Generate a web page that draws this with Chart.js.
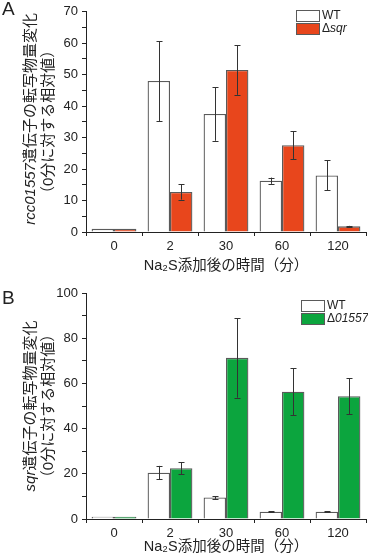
<!DOCTYPE html>
<html>
<head>
<meta charset="utf-8">
<script src="https://cdn.jsdelivr.net/npm/chart.js@4.4.0/dist/chart.umd.min.js"></script>
<style>
  html, body { margin: 0; padding: 0; background: #fff; }
  canvas { display: block; }
</style>
</head>
<body>
<canvas id="chartA" width="368" height="280"></canvas>
<canvas id="chartB" width="368" height="278"></canvas>
<script>
// time after Na2S addition (min)
const categories = ['0', '2', '30', '60', '120'];

// panel A: rcc01557 expression
const wtA = [1, 48, 37.5, 16.3, 18];
const wtAErr = [0, 12.7, 8.5, 1, 4.8];
const sqrA = [1, 12.7, 51.5, 27.6, 1.8];
const sqrAErr = [0, 2.4, 7.9, 4.4, 0.15];

// panel B: sqr expression
const wtB = [1, 20.5, 9.5, 3.2, 3.2];
const wtBErr = [0, 3, 0.6, 0.25, 0.25];
const d01557B = [1, 22.5, 71.3, 56.3, 54.3];
const d01557BErr = [0, 2.6, 17.6, 10.3, 7.9];

const FONT = '"Liberation Sans", "Noto Sans CJK JP", sans-serif';
const RED = '#E8461C';
const GREEN = '#0CA53E';
const EDGE = '#5a5a5a';
const INK = '#222';

// error bars + boundary ticks + titles + legend, all placed from the chart's scales
const extras = {
    id: 'extras',
    afterDatasetsDraw(chart) {
        const ctx = chart.ctx;
        const y = chart.scales.y;
        ctx.save();
        ctx.strokeStyle = '#333';
        ctx.lineWidth = 1;
        chart.data.datasets.forEach((ds, i) => {
            const meta = chart.getDatasetMeta(i);
            meta.data.forEach((bar, j) => {
                const e = ds.err[j];
                if (!e) return;
                const top = y.getPixelForValue(ds.data[j] + e);
                const bot = y.getPixelForValue(ds.data[j] - e);
                const x = Math.round(bar.x) + 0.5;
                ctx.beginPath();
                ctx.moveTo(x, top); ctx.lineTo(x, bot);
                ctx.moveTo(x - 3, Math.round(top) + 0.5); ctx.lineTo(x + 3, Math.round(top) + 0.5);
                ctx.moveTo(x - 3, Math.round(bot) + 0.5); ctx.lineTo(x + 3, Math.round(bot) + 0.5);
                ctx.stroke();
            });
        });
        ctx.restore();
    },
    afterDraw(chart) {
        const o = chart.options.plugins.extras;
        const ctx = chart.ctx;
        const area = chart.chartArea;
        const x = chart.scales.x;
        ctx.save();

        // minor ticks at category boundaries
        ctx.strokeStyle = INK;
        ctx.lineWidth = 1;
        ctx.beginPath();
        for (let i = 1; i < categories.length; i++) {
            const px = Math.round((x.getPixelForValue(i - 1) + x.getPixelForValue(i)) / 2) + 0.5;
            ctx.moveTo(px, area.bottom); ctx.lineTo(px, area.bottom + 4);
        }
        ctx.stroke();

        // panel letter
        ctx.fillStyle = INK;
        ctx.font = '19px ' + FONT;
        ctx.textBaseline = 'top';
        ctx.textAlign = 'left';
        ctx.fillText(o.letter, 2, o.letterY);

        // y axis title, two lines, rotated
        const cy = (area.top + area.bottom) / 2;
        ctx.save();
        ctx.translate(31, cy);
        ctx.rotate(-Math.PI / 2);
        ctx.textBaseline = 'middle';
        ctx.textAlign = 'left';
        const italic = 'italic 15px ' + FONT;
        const normal = '15px ' + FONT;
        ctx.font = italic;
        const w1 = ctx.measureText(o.gene).width;
        ctx.font = normal;
        const w2 = ctx.measureText(o.title1).width;
        let sx = -(w1 + w2) / 2 + o.shift;
        ctx.font = italic;
        ctx.fillText(o.gene, sx, 0);
        ctx.font = normal;
        ctx.fillText(o.title1, sx + w1, 0);
        ctx.textAlign = 'center';
        ctx.fillText('（0分に対する相対値）', 0, 18);
        ctx.restore();

        // legend
        const ds = chart.data.datasets;
        ctx.lineWidth = 1;
        ctx.strokeStyle = EDGE;
        ctx.textBaseline = 'middle';
        ctx.textAlign = 'left';
        ds.forEach((d, i) => {
            const by = o.legendY + i * 13;
            ctx.fillStyle = d.backgroundColor;
            ctx.fillRect(o.legendX, by, 24, 12);
            ctx.strokeRect(o.legendX + 0.5, by + 0.5, 23, 11);
            ctx.fillStyle = INK;
            const tx = o.legendX + 26;
            ctx.font = '12px ' + FONT;
            if (i === 0) {
                ctx.fillText(d.label, tx, by + 6);
            } else {
                ctx.fillText('Δ', tx, by + 6);
                const dw = ctx.measureText('Δ').width;
                ctx.font = 'italic 12px ' + FONT;
                ctx.fillText(d.label.slice(1), tx + dw, by + 6);
            }
        });
        ctx.restore();
    }
};

function makeChart(id, wt, wtErr, mut, mutErr, mutLabel, color, yMax, step, opts) {
    return new Chart(document.getElementById(id), {
        type: 'bar',
        data: {
            labels: categories,
            datasets: [
                { label: 'WT', data: wt, err: wtErr, backgroundColor: '#fff', borderColor: EDGE, borderWidth: 1.3 },
                { label: mutLabel, data: mut, err: mutErr, backgroundColor: color, borderColor: EDGE, borderWidth: 1.3 }
            ]
        },
        options: {
            responsive: false,
            animation: false,
            devicePixelRatio: 1,
            layout: { padding: { left: 0, right: 2, top: opts.top, bottom: 0 } },
            datasets: { bar: { categoryPercentage: 0.8, barPercentage: 1 } },
            plugins: {
                legend: { display: false },
                tooltip: { enabled: false },
                extras: opts
            },
            scales: {
                x: {
                    grid: { drawOnChartArea: false, tickLength: 4, color: INK },
                    border: { color: INK, width: 1 },
                    ticks: { color: INK, font: { family: FONT, size: 13 }, padding: 3 },
                    title: {
                        display: true,
                        text: 'Na₂S添加後の時間（分）',
                        color: INK,
                        font: { family: FONT, size: 14.5 },
                        padding: { top: 1, bottom: opts.titlePad }
                    },
                    afterFit: s => { s.height = opts.xHeight; }
                },
                y: {
                    min: 0,
                    max: yMax,
                    grid: { drawOnChartArea: false, tickLength: 4, color: INK },
                    border: { color: INK, width: 1 },
                    ticks: {
                        stepSize: step,
                        autoSkip: false,
                        color: INK,
                        font: { family: FONT, size: 13 },
                        padding: 4,
                        callback: v => (v % (step * 2) === 0 ? v : '')
                    },
                    afterFit: s => { s.width = 86; }
                }
            }
        },
        plugins: [extras]
    });
}

makeChart('chartA', wtA, wtAErr, sqrA, sqrAErr, 'Δsqr', RED, 70, 5,
    { top: 7, xHeight: 48, titlePad: 5, letter: 'A', letterY: 0, gene: 'rcc01557', title1: '遺伝子の転写物量変化',
      shift: 3, legendX: 296, legendY: 10 });
makeChart('chartB', wtB, wtBErr, d01557B, d01557BErr, 'Δ01557', GREEN, 100, 10,
    { top: 13, xHeight: 39, titlePad: 2, letter: 'B', letterY: 9, gene: 'sqr', title1: '遺伝子の転写物量変化',
      shift: 0, legendX: 301, legendY: 20 });
</script>
</body>
</html>
